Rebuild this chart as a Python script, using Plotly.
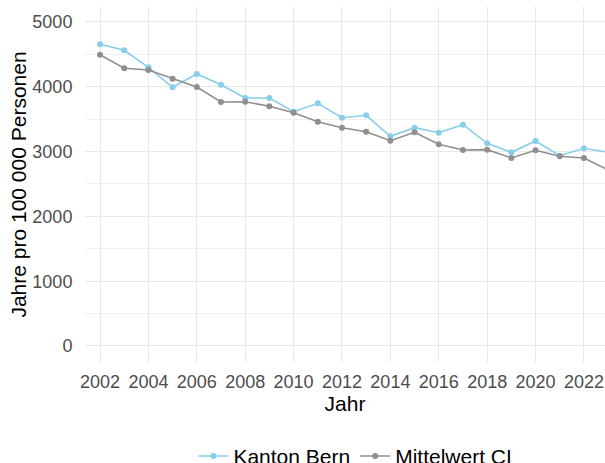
import plotly.graph_objects as go

years = list(range(2002, 2024))
kanton_bern = [4656, 4563, 4301, 3992, 4198, 4032, 3827, 3827, 3616, 3745,
               3523, 3560, 3236, 3369, 3292, 3415, 3128, 2989, 3164, 2937,
               3051, 2990]
mittelwert = [4495, 4285, 4259, 4125, 3997, 3765, 3770, 3699, 3600, 3461,
              3369, 3307, 3168, 3298, 3113, 3025, 3030, 2901, 3020, 2927,
              2901, 2718]

y_ticks = [0, 1000, 2000, 3000, 4000, 5000]
x_ticks = list(range(2002, 2023, 2))

FONT = "Liberation Sans, Arial, sans-serif"

fig = go.Figure()
fig.add_trace(go.Scatter(x=years, y=kanton_bern, name="Kanton Bern",
                         mode="lines+markers",
                         line=dict(color="#87CEEB", width=1.6),
                         marker=dict(color="#87CEEB", size=6)))
fig.add_trace(go.Scatter(x=years, y=mittelwert, name="Mittelwert CI",
                         mode="lines+markers",
                         line=dict(color="#8f8f8f", width=1.6),
                         marker=dict(color="#8f8f8f", size=6)))

fig.update_layout(
    width=605, height=463,
    margin=dict(l=85, r=0, t=7, b=101, autoexpand=False),
    plot_bgcolor="white", paper_bgcolor="white",
    font=dict(family=FONT, color="#4d4d4d"),
    showlegend=True,
    legend=dict(orientation="h", x=0.52, xanchor="center",
                y=-0.208, yanchor="top",
                font=dict(size=21, color="black", family=FONT)),
)
fig.update_xaxes(range=[2001.38, 2022.87], tickvals=x_ticks,
                 ticktext=[str(v) for v in x_ticks],
                 showgrid=True, gridcolor="#e8e8e8", gridwidth=1.2,
                 zeroline=False, showline=False,
                 ticks="outside", ticklen=3, tickcolor="rgba(0,0,0,0)",
                 tickfont=dict(size=18, color="#4d4d4d"),
                 title=dict(text="Jahr", font=dict(size=21, color="black"),
                            standoff=1))
fig.update_yaxes(range=[-247, 5231], tickvals=y_ticks,
                 ticktext=[str(v) for v in y_ticks],
                 showgrid=True, gridcolor="#e8e8e8", gridwidth=1.2,
                 minor=dict(dtick=500, tick0=0, showgrid=True,
                            gridcolor="#f0f0f0", gridwidth=1),
                 zeroline=False, showline=False,
                 ticks="outside", ticklen=8, tickcolor="rgba(0,0,0,0)",
                 tickfont=dict(size=18, color="#4d4d4d"),
                 title=dict(text="Jahre pro 100 000 Personen",
                            font=dict(size=21, color="black"), standoff=0))

fig.write_html(
    "out.html",
    config={"displayModeBar": False},
    post_script="document.body.style.margin='0';"
                "document.body.style.overflow='hidden';",
)
